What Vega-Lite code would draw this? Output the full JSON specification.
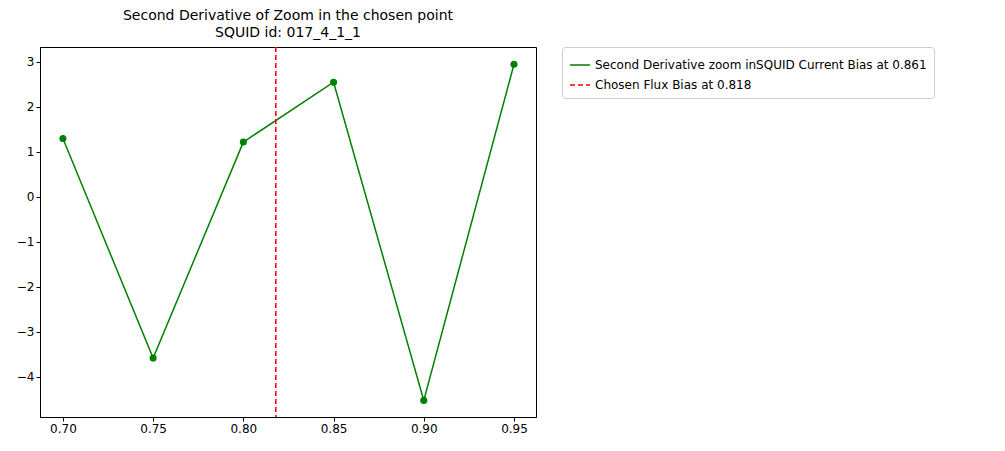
{
"$schema":"https://vega.github.io/schema/vega-lite/v6.json",
"width":496,"height":370,
"autosize":{"type":"none"},
"padding":{"left":40,"top":47,"right":469,"bottom":34},
"title":{"text":["Second Derivative of Zoom in the chosen point","SQUID id: 017_4_1_1"],"fontSize":14,"fontWeight":"normal","font":"DejaVu Sans","color":"black","offset":6,"lineHeight":17},
"config":{"font":"DejaVu Sans","axis":{"grid":false,"labelFontSize":12,"labelColor":"black","tickColor":"black","domainColor":"black","tickSize":4,"labelFont":"DejaVu Sans"},"view":{"stroke":"black"}},
"layer":[
{"data":{"values":[{"x":0.70,"y":1.3},{"x":0.75,"y":-3.58},{"x":0.80,"y":1.22},{"x":0.85,"y":2.55},{"x":0.90,"y":-4.52},{"x":0.95,"y":2.95}]},
"mark":{"type":"line","point":{"filled":true,"size":50},"strokeWidth":1.5},
"encoding":{
"x":{"field":"x","type":"quantitative","scale":{"domain":[0.6873,0.9622],"nice":false,"zero":false},"axis":{"values":[0.70,0.75,0.80,0.85,0.90,0.95],"format":".2f","title":null}},
"y":{"field":"y","type":"quantitative","scale":{"domain":[-4.889,3.333],"nice":false,"zero":false},"axis":{"values":[-4,-3,-2,-1,0,1,2,3],"title":null,"labelExpr":"replace(datum.label,'−','−')"}},
"color":{"datum":"Second Derivative zoom inSQUID Current Bias at 0.861","type":"nominal","scale":{"domain":["Second Derivative zoom inSQUID Current Bias at 0.861","Chosen Flux Bias at 0.818"],"range":["green","red"]},
"legend":{"title":null,"orient":"none","legendX":522,"legendY":0,"symbolType":"stroke","symbolStrokeWidth":1.5,"symbolSize":400,"labelFontSize":12,"labelLimit":0,"labelFont":"DejaVu Sans","labelColor":"black","padding":7,"strokeColor":"#cccccc","cornerRadius":3,"fillColor":"white","rowPadding":3,
"encode":{"symbols":{"update":{"strokeDash":{"signal":"datum.value == 'Chosen Flux Bias at 0.818' ? [5,3] : [1,0]"}}}}}}}},
{"data":{"values":[{"x":0.818}]},
"mark":{"type":"rule","strokeDash":[5,3],"strokeWidth":1.5},
"encoding":{"x":{"field":"x","type":"quantitative"},"color":{"datum":"Chosen Flux Bias at 0.818","type":"nominal"}}}
]
}
